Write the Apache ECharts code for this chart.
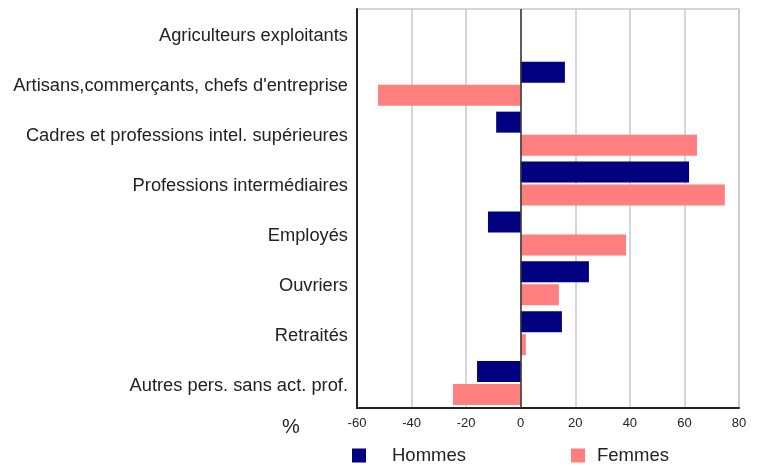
<!DOCTYPE html>
<html>
<head>
<meta charset="utf-8">
<script src="https://cdn.jsdelivr.net/npm/echarts@6/dist/echarts.min.js"></script>
<style>
  html, body { margin: 0; padding: 0; background: #fff; }
  #chart { width: 761px; height: 466px; }
</style>
</head>
<body>
<div id="chart"></div>
<script>
const categories = [
  'Agriculteurs exploitants',
  'Artisans,commerçants, chefs d\'entreprise',
  'Cadres et professions intel. supérieures',
  'Professions intermédiaires',
  'Employés',
  'Ouvriers',
  'Retraités',
  'Autres pers. sans act. prof.'
]
const hommes = [0, 16.2, -9, 61.7, -12, 25, 15.1, -16]
const femmes = [0, -52.3, 64.6, 74.8, 38.6, 14, 1.9, -24.8]

const chart = echarts.init(document.getElementById('chart'))

const font = 'Liberation Sans, Arial, sans-serif'

const option = {
  animation: false,
  grid: {
    left: 357,
    right: 22,
    top: 9,
    bottom: 58,
    show: true,
    borderColor: '#c8c8c8',
    borderWidth: 1.5
  },
  xAxis: {
    type: 'value',
    min: -60,
    max: 80,
    interval: 20,
    axisLine: { show: true, onZero: false, lineStyle: { color: '#222', width: 2 } },
    axisTick: { show: false },
    axisLabel: {
      margin: 9,
      fontFamily: font,
      fontSize: 13,
      color: '#222'
    },
    splitLine: { show: true, lineStyle: { color: '#c8c8c8', width: 1.5 } }
  },
  yAxis: {
    type: 'category',
    data: categories,
    inverse: true,
    axisLine: { show: true, onZero: false, lineStyle: { color: '#222', width: 2 } },
    axisTick: { show: false },
    axisLabel: {
      margin: 9,
      fontFamily: font,
      fontSize: 18.3,
      color: '#222',
      verticalAlign: 'top',
      lineHeight: 5
    }
  },
  legend: [
    {
      data: ['Hommes'],
      left: 347,
      top: 441,
      itemWidth: 14,
      itemHeight: 14,
      icon: 'rect',
      textStyle: {
        fontFamily: font,
        fontSize: 18.5,
        color: '#222',
        padding: [0, 0, 0, 21]
      }
    },
    {
      data: ['Femmes'],
      left: 566,
      top: 441,
      itemWidth: 14,
      itemHeight: 14,
      icon: 'rect',
      textStyle: {
        fontFamily: font,
        fontSize: 18.5,
        color: '#222',
        padding: [0, 0, 0, 7]
      }
    }
  ],
  graphic: [
    {
      type: 'text',
      left: 282,
      top: 417,
      style: {
        text: '%',
        font: '20px Liberation Sans, Arial, sans-serif',
        fill: '#222'
      }
    }
  ],
  series: [
    {
      name: 'Hommes',
      type: 'bar',
      data: hommes,
      barWidth: 21,
      barGap: '10%',
      itemStyle: { color: '#000080' },
      markLine: {
        silent: true,
        symbol: 'none',
        label: { show: false },
        lineStyle: { color: '#333', type: 'solid', width: 1.5 },
        data: [{ xAxis: 0 }]
      }
    },
    {
      name: 'Femmes',
      type: 'bar',
      data: femmes,
      barWidth: 21,
      barGap: '10%',
      itemStyle: { color: '#ff7f7f' }
    }
  ]
}

chart.setOption(option)
</script>
</body>
</html>
